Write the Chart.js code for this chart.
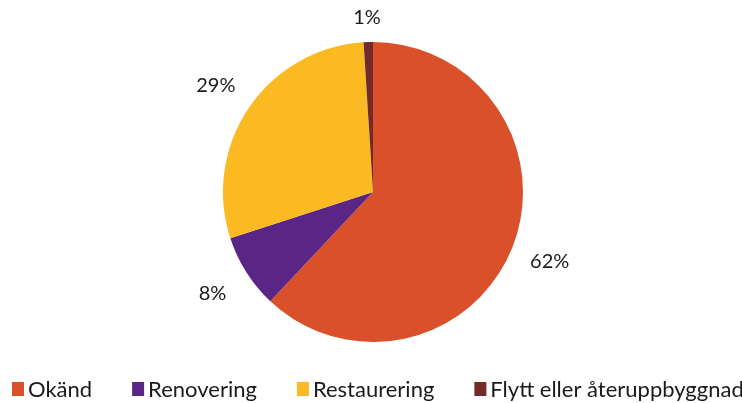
<!DOCTYPE html>
<html>
<head>
<meta charset="utf-8">
<script src="https://cdn.jsdelivr.net/npm/chart.js@4/dist/chart.umd.min.js"></script>
<style>
html,body{margin:0;padding:0;background:#fff;}
#wrap{width:742px;height:403px;position:relative;}
</style>
</head>
<body>
<div id="wrap"><canvas id="c" width="742" height="403"></canvas></div>
<script>
const categories = ["Okänd", "Renovering", "Restaurering", "Flytt eller återuppbyggnad"];
const values = [62, 8, 29, 1];
const valueLabels = ["62%", "8%", "29%", "1%"];
const colors = ["#D9502A", "#5B2586", "#FBBA21", "#732B29"];

const FONT = "Lato, 'Open Sans', sans-serif";

const outLabels = {
  id: 'outLabels',
  afterDatasetsDraw(chart) {
    const ctx = chart.ctx;
    const meta = chart.getDatasetMeta(0);
    ctx.save();
    ctx.font = "20px " + FONT;
    ctx.fillStyle = "#1a1a1a";
    ctx.textAlign = "center";
    ctx.textBaseline = "middle";
    meta.data.forEach((arc, i) => {
      const mid = (arc.startAngle + arc.endAngle) / 2;
      const R = arc.outerRadius + 40;
      const x = arc.x + Math.cos(mid) * R;
      let y = arc.y + Math.sin(mid) * R;
      if (y < 18) y = 18;
      ctx.fillText(valueLabels[i], x, y);
    });
    ctx.restore();
  }
};

const customLegend = {
  id: 'customLegend',
  afterDraw(chart) {
    const ctx = chart.ctx;
    ctx.save();
    ctx.font = "22px " + FONT;
    ctx.textBaseline = "alphabetic";
    ctx.textAlign = "left";
    let x = 12;
    const y = 397;
    categories.forEach((lab, i) => {
      ctx.fillStyle = colors[i];
      ctx.fillRect(x, 382, 12, 14);
      ctx.fillStyle = "#1a1a1a";
      ctx.fillText(lab, x + 16, y);
      x += 16 + ctx.measureText(lab).width + 40;
    });
    ctx.restore();
  }
};

new Chart(document.getElementById('c'), {
  type: 'pie',
  data: {
    labels: categories,
    datasets: [{
      data: values,
      backgroundColor: colors,
      borderWidth: 0
    }]
  },
  options: {
    responsive: false,
    animation: false,
    layout: { padding: { left: 223, right: 219, top: 42, bottom: 61 } },
    plugins: {
      legend: { display: false },
      tooltip: { enabled: false }
    }
  },
  plugins: [outLabels, customLegend]
});
</script>
</body>
</html>
